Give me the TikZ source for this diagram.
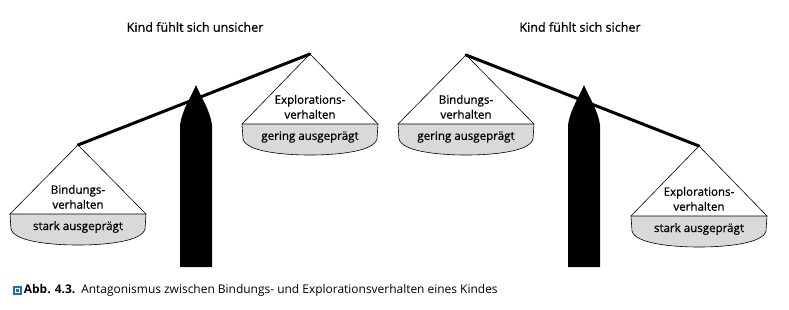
\documentclass[tikz,border=0pt]{standalone}
\usepackage{fontspec}
\setmainfont{Open Sans}
\newfontfamily\halbfett{Open Sans}[FakeBold=0.7]
\usetikzlibrary{positioning}

\definecolor{schalegrau}{gray}{0.85}
\definecolor{abbblau}{RGB}{35,110,180}

\tikzset{
  balken/.style={line width=3bp,line cap=round},
  seil/.style={line width=0.6bp},
  schale/.style={draw,line width=0.6bp,fill=schalegrau},
  beschr/.style={align=center,inner sep=0pt,font=\halbfett\fontsize{11.6}{15}\selectfont},
  titel/.style={font=\halbfett\fontsize{12.6}{14}\selectfont},
}

% Waagschale: #1 Name, #2 Mitte x, #3 Aufhaengung y, #4 Rand y, #5 Verhalten, #6 Auspraegung
\newcommand{\waagschale}[6]{%
  \coordinate (#1-auf) at (#2,#3);
  \coordinate (#1-l) at (#2-68,#4);
  \coordinate (#1-r) at (#2+68,#4);
  \draw[seil] (#1-l) -- (#1-auf) -- (#1-r);
  \draw[schale] (#1-l) -- (#1-r) -- ++(-1,-15)
     .. controls (#2+64,#4-27) and (#2+30,#4-31) .. (#2,#4-31)
     .. controls (#2-30,#4-31) and (#2-64,#4-27) .. (#2-67,#4-15) -- cycle;
  \node[beschr,anchor=south] (#1-text) at (#2,#4+5) {#5};
  \node[beschr] (#1-grad) at (#2,#4-13) {#6};
}
% Saeule mit Spitze: #1 Mitte x
\newcommand{\saeule}[1]{%
  \fill (#1-16,42) -- (#1-16,184) .. controls (#1-14,199) and (#1-4,214) .. (#1,224)
     .. controls (#1+4,214) and (#1+14,199) .. (#1+16,184) -- (#1+16,42) -- cycle;
}

\begin{document}
\begin{tikzpicture}[x=1bp,y=1bp]
\useasboundingbox (0,0) rectangle (789,309);

% links: unsicher
\path (195,282) node(titelA)[titel]{Kind fühlt sich unsicher};
\saeule{196}
\waagschale{bindA}{78}{164}{95}{Bindungs-\\verhalten}{stark ausgeprägt}
\waagschale{explA}{310}{255}{185}{Explorations-\\verhalten}{gering ausgeprägt}
\draw[balken] (bindA-auf) -- (explA-auf);

% rechts: sicher
\path (580,282) node(titelB)[titel]{Kind fühlt sich sicher};
\saeule{584}
\waagschale{bindB}{466}{254}{185}{Bindungs-\\verhalten}{gering ausgeprägt}
\waagschale{explB}{699}{163}{93}{Explorations-\\verhalten}{stark ausgeprägt}
\draw[balken] (bindB-auf) -- (explB-auf);

% Bildunterschrift
\node[fill=abbblau,minimum size=9bp,inner sep=0pt] (icon) at (17,19) {};
\node[draw=white,line width=0.8bp,minimum size=4bp,inner sep=0pt] at (icon) {};
\node[right=2bp of icon,inner sep=0pt,font=\fontsize{12}{14}\selectfont] (abb)
  {\textbf{Abb. 4.3.}\enspace Antagonismus zwischen Bindungs- und Explorationsverhalten eines Kindes};
\end{tikzpicture}
\end{document}
